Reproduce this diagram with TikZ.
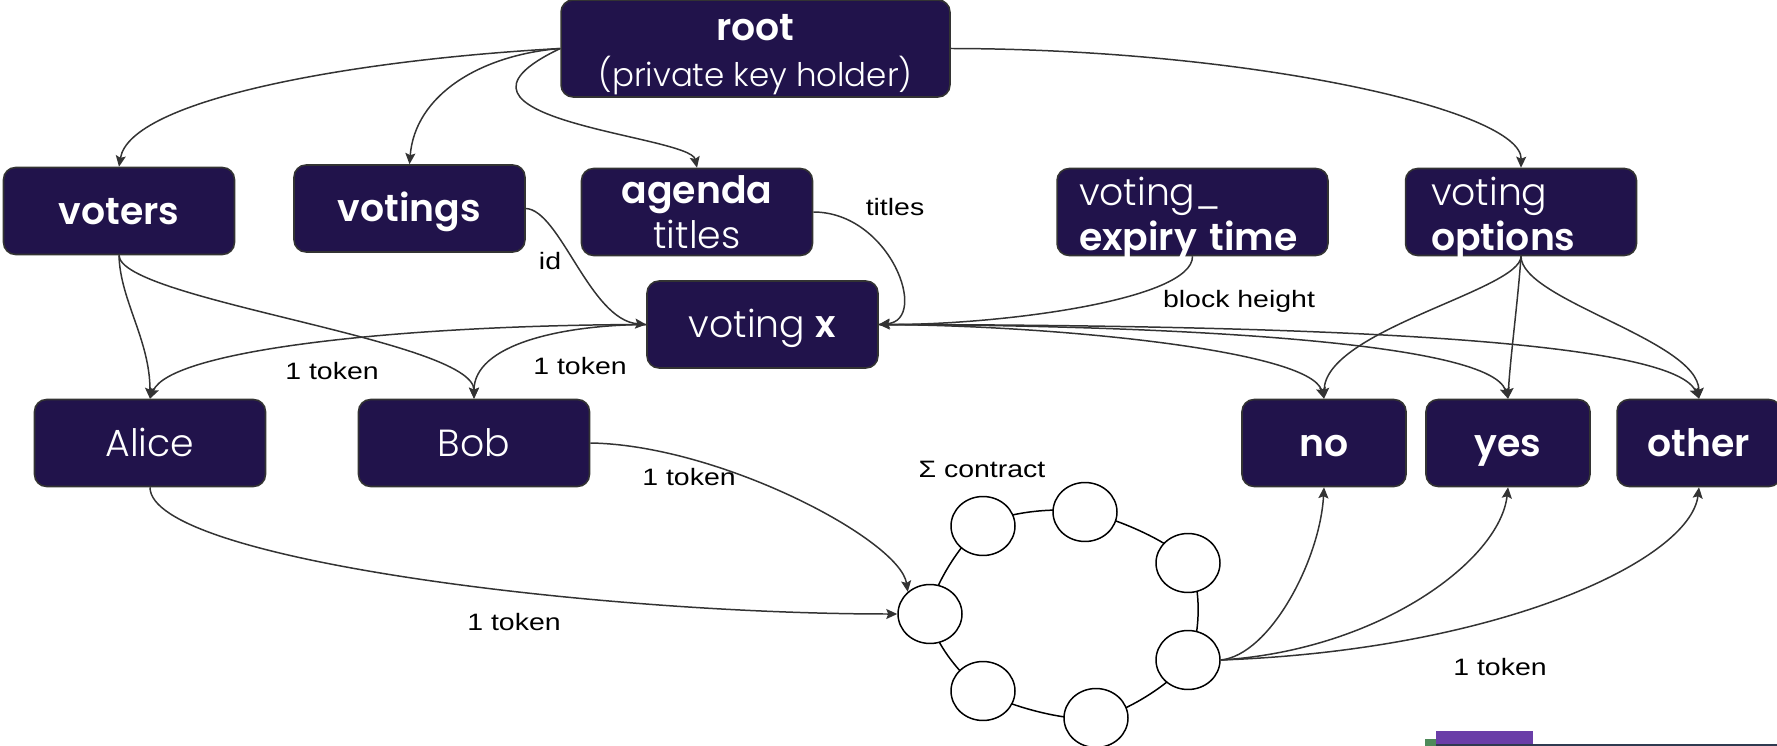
\documentclass[tikz,border=0pt]{standalone}
\usepackage{fontspec}
\usetikzlibrary{arrows.meta,shapes.geometric}
\newfontfamily\boxfont{Poppins Light}[BoldFont={Poppins SemiBold}]
\newfontfamily\lblfont{Liberation Sans}[FakeStretch=1.2]
\definecolor{boxblue}{HTML}{21134B}
\definecolor{linegray}{HTML}{333333}
\definecolor{artpurple}{HTML}{6A3EA8}
\definecolor{artgreen}{HTML}{4E8A5A}
\definecolor{artline}{HTML}{2F3A50}

\begin{document}
\begin{tikzpicture}[x=0.02cm,y=-0.02cm,
  box/.style={draw=linegray,line width=0.9pt,fill=boxblue,rounded corners=0.24cm,
    text=white,font=\boxfont\fontsize{21.5}{25.5}\selectfont,align=center,inner sep=0pt,
    minimum width=4.62cm,minimum height=1.74cm},
  one/.style={text height=16pt,text depth=1pt},
  two/.style={align=left,text depth=23.5pt},
  wire/.style={draw=linegray,line width=0.85pt,-{Stealth[length=0.22cm,width=0.2cm,inset=0.04cm]}},
  lbl/.style={font=\lblfont\fontsize{13.5}{16}\selectfont,inner sep=1pt},
  slot/.style={ellipse,draw=black,line width=0.85pt,fill=white,minimum width=1.28cm,minimum height=1.18cm,inner sep=0pt}]
\useasboundingbox (0,0) rectangle (1777,746);

\node[box,minimum width=7.78cm,minimum height=1.94cm] (root) at (755.5,48.5) {\rule{0pt}{22pt}\textbf{root}\\[1pt]{\fontsize{18.5}{22}\selectfont(private key holder)}};
\node[box,one] (voters) at (119,211) {\textbf{voters}};
\node[box,one] (votings) at (409.5,208.5) {\textbf{votings}};
\node[box] (agenda) at (697,212) {\textbf{agenda}\\titles};
\node[box,two,minimum width=5.42cm,text width=4.54cm] (expiry) at (1192.5,212) {voting\_\\\textbf{expiry time}};
\node[box,two,text width=3.6cm] (options) at (1521,212) {voting\\\textbf{options}};
\node[box,one] (votingx) at (762.5,324.5) {voting \textbf{x}};
\node[box,one] (alice) at (150,443) {Alice};
\node[box,one] (bob) at (474,443) {Bob};
\node[box,one,minimum width=3.28cm] (no) at (1324,443) {\textbf{no}};
\node[box,one,minimum width=3.28cm] (yes) at (1508,443) {\textbf{yes}};
\node[box,one,minimum width=3.28cm] (other) at (1699,443) {\textbf{other}};

\draw[line width=0.85pt] plot[smooth cycle] coordinates {(930,614) (983,526) (1085,512) (1188,563) (1188,660) (1096,718) (983,691)};
\node[slot] (c1) at (930,614) {};
\node[slot] (c2) at (983,526) {};
\node[slot] (c3) at (1085,512) {};
\node[slot] (c4) at (1188,563) {};
\node[slot] (c5) at (1188,660) {};
\node[slot] (c6) at (1096,718) {};
\node[slot] (c7) at (983,691) {};
\node[lbl] (contract) at (982,469) {Σ contract};

\draw[wire] (root.west) .. controls (350,60) and (130,100) .. (voters.north);
\draw[wire] (root.west) .. controls (480,55) and (415,95) .. (votings.north);
\draw[wire] (root.west) .. controls (410,120) and (690,135) .. (agenda.north);
\draw[wire] (root.east) .. controls (1250,49) and (1522,110) .. (options.north);

\draw[wire] (votings.east) .. controls (560,210) and (590,320) .. (votingx.west);
\draw[wire] (agenda.east) .. controls (890,212) and (930,320) .. (votingx.east);
\draw[wire] (expiry.south) .. controls (1193,300) and (1000,325) .. (votingx.east);
\node[lbl] (lid) at (550,261) {id};
\node[lbl] (ltitles) at (895,207) {titles};
\node[lbl] (lblock) at (1239,301) {block height};

\draw[wire] (voters.south) .. controls (120,300) and (150,340) .. (alice.north);
\draw[wire] (voters.south) .. controls (120,300) and (474,340) .. (bob.north);
\draw[wire] (votingx.west) .. controls (400,325) and (170,350) .. (alice.north);
\draw[wire] (votingx.west) .. controls (560,325) and (474,345) .. (bob.north);
\node[lbl] (ltoka) at (332,371) {1 token};
\node[lbl] (ltokb) at (580,366) {1 token};

\draw[wire] (votingx.east) .. controls (1050,325) and (1310,350) .. (no.north);
\draw[wire] (votingx.east) .. controls (1150,325) and (1490,340) .. (yes.north);
\draw[wire] (votingx.east) .. controls (1250,325) and (1670,335) .. (other.north);
\draw[wire] (options.south) .. controls (1521,290) and (1325,330) .. (no.north);
\draw[wire] (options.south) .. controls (1518,300) and (1510,360) .. (yes.north);
\draw[wire] (options.south) .. controls (1521,300) and (1698,340) .. (other.north);

\draw[wire] (bob.east) .. controls (720,445) and (900,540) .. (c1.135);
\draw[wire] (alice.south) .. controls (150,560) and (600,614) .. (c1.west);
\node[lbl] (ltokc) at (689,477) {1 token};
\node[lbl] (ltokd) at (514,622) {1 token};

\draw[wire] (c5.east) .. controls (1270,655) and (1320,560) .. (no.south);
\draw[wire] (c5.east) .. controls (1380,650) and (1500,560) .. (yes.south);
\draw[wire] (c5.east) .. controls (1500,650) and (1690,560) .. (other.south);
\node[lbl] (ltoke) at (1500,667) {1 token};

\fill[artgreen] (1425,739) rectangle (1436,746);
\fill[artpurple] (1436,731) rectangle (1533,746);
\fill[artline] (1436,744) rectangle (1777,746);
\end{tikzpicture}
\end{document}
